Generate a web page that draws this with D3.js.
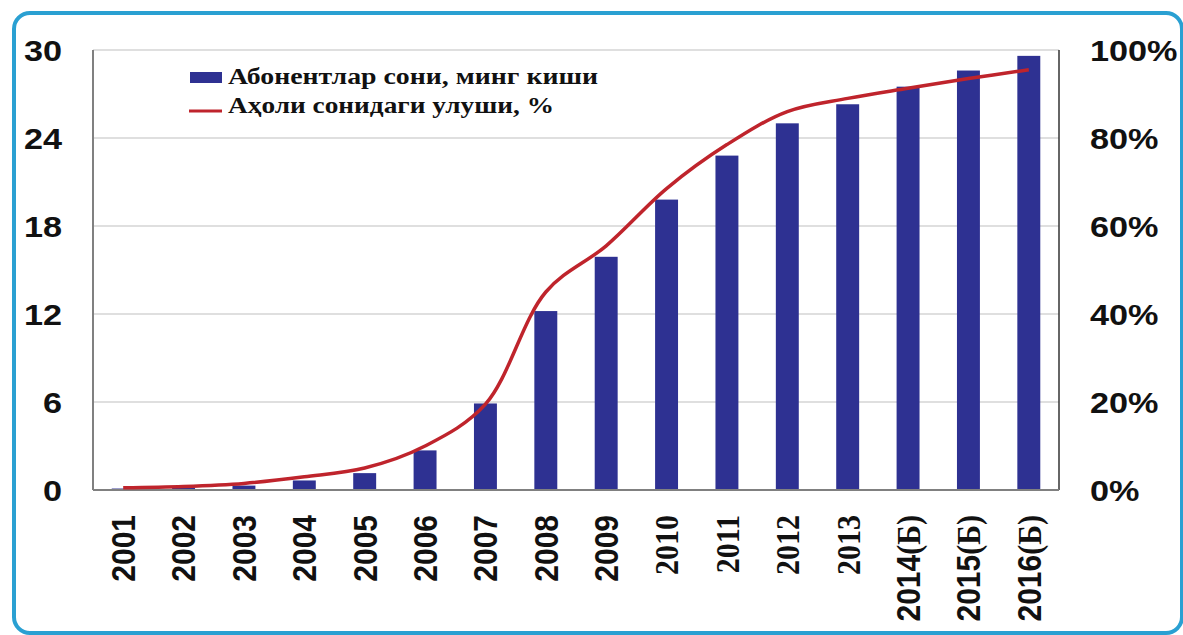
<!DOCTYPE html>
<html>
<head>
<meta charset="utf-8">
<script src="https://cdn.jsdelivr.net/npm/d3@7"></script>
<style>
  body { margin: 0; background: #fff; }
  svg { display: block; }
</style>
</head>
<body>
<script>
// data
let years = ["2001", "2002", "2003", "2004", "2005", "2006", "2007", "2008",
  "2009", "2010", "2011", "2012", "2013", "2014(Б)", "2015(Б)", "2016(Б)"];
let subscribers = [0.1, 0.15, 0.3, 0.65, 1.15, 2.7, 5.9, 12.2,
  15.9, 19.8, 22.8, 25.0, 26.3, 27.5, 28.6, 29.6];
let share = [0.005, 0.008, 0.015, 0.03, 0.05, 0.1, 0.195, 0.45,
  0.555, 0.685, 0.785, 0.86, 0.89, 0.913, 0.935, 0.955];
let leftTicks = [0, 6, 12, 18, 24, 30];
let rightTicks = [0, 0.2, 0.4, 0.6, 0.8, 1];
let legendLabels = ["Абонентлар сони, минг киши", "Аҳоли сонидаги улуши, %"];

let width = 1183, height = 635;
let plot = { left: 93, right: 1059, top: 50, bottom: 490 };
let stretch = 1.18;
let barColor = "#2e3192";
let lineColor = "#bf242c";

let svg = d3.select("body").append("svg")
  .attr("width", width)
  .attr("height", height);

// outer frame
svg.append("rect")
  .attr("x", 14).attr("y", 13)
  .attr("width", 1168).attr("height", 620)
  .attr("rx", 16)
  .attr("fill", "none")
  .attr("stroke", "#2aa0d2")
  .attr("stroke-width", 4);

//scales
let xScale = d3.scaleBand()
  .domain(years)
  .range([plot.left, plot.right])
  .paddingInner(0.62)
  .paddingOuter(0.31);

let yLeft = d3.scaleLinear().domain([0, 30]).range([plot.bottom, plot.top]);
let yRight = d3.scaleLinear().domain([0, 1]).range([plot.bottom, plot.top]);

//gridlines
svg.append("g")
  .selectAll("line")
  .data(leftTicks.slice(1))
  .enter()
  .append("line")
  .attr("x1", plot.left).attr("x2", plot.right)
  .attr("y1", d => yLeft(d)).attr("y2", d => yLeft(d))
  .attr("stroke", "#d4d4d4")
  .attr("stroke-width", 1.5);

//bars
svg.append("g")
  .selectAll("rect")
  .data(subscribers)
  .enter()
  .append("rect")
  .attr("x", (d, i) => xScale(years[i]))
  .attr("y", d => yLeft(d))
  .attr("width", xScale.bandwidth())
  .attr("height", d => yLeft(0) - yLeft(d))
  .attr("fill", barColor);

//plot borders
svg.append("line")
  .attr("x1", plot.left).attr("x2", plot.left)
  .attr("y1", plot.top).attr("y2", plot.bottom)
  .attr("stroke", "#808080").attr("stroke-width", 2);
svg.append("line")
  .attr("x1", plot.right).attr("x2", plot.right)
  .attr("y1", plot.top).attr("y2", plot.bottom)
  .attr("stroke", "#333").attr("stroke-width", 1.5);
svg.append("line")
  .attr("x1", plot.left).attr("x2", plot.right)
  .attr("y1", plot.bottom).attr("y2", plot.bottom)
  .attr("stroke", "#808080").attr("stroke-width", 2);

//share line
let line = d3.line()
  .x((d, i) => xScale(years[i]) + xScale.bandwidth() / 2)
  .y(d => yRight(d))
  .curve(d3.curveCatmullRom.alpha(0.5));

svg.append("path")
  .datum(share)
  .attr("d", line)
  .attr("fill", "none")
  .attr("stroke", lineColor)
  .attr("stroke-width", 3.5);

//left axis
let leftAxis = d3.axisLeft(yLeft).tickValues(leftTicks).tickSize(0).tickPadding(0);
let gLeft = svg.append("g")
  .attr("transform", "translate(" + plot.left + ",0)")
  .call(leftAxis);
gLeft.select(".domain").remove();
gLeft.selectAll("text")
  .attr("x", -31 / stretch)
  .attr("dy", "0.36em")
  .attr("transform", "scale(" + stretch + ",1)")
  .style("font-family", "Liberation Sans, Arial, sans-serif")
  .style("font-weight", "bold")
  .style("font-size", "29px")
  .style("fill", "#111");

//right axis
let rightAxis = d3.axisRight(yRight).tickValues(rightTicks).tickSize(0)
  .tickFormat(d3.format(".0%"));
let gRight = svg.append("g")
  .attr("transform", "translate(" + plot.right + ",0)")
  .call(rightAxis);
gRight.select(".domain").remove();
gRight.selectAll("text")
  .attr("x", 31 / stretch)
  .attr("dy", "0.36em")
  .attr("transform", "scale(" + stretch + ",1)")
  .style("font-family", "Liberation Sans, Arial, sans-serif")
  .style("font-weight", "bold")
  .style("font-size", "29px")
  .style("fill", "#111");

//x axis, rotated labels
let xAxis = d3.axisBottom(xScale).tickSize(0).tickFormat("");
let gX = svg.append("g")
  .attr("transform", "translate(0," + plot.bottom + ")")
  .call(xAxis);
gX.select(".domain").remove();
gX.selectAll(".tick text").remove();
gX.selectAll(".tick")
  .append("text")
  .attr("transform", "scale(1.1,1) rotate(-90)")
  .attr("x", -25)
  .attr("dy", "0.36em")
  .attr("text-anchor", "end")
  .style("font-weight", "bold")
  .style("font-size", "30px")
  .attr("fill", "#111")
  .each(function (d) {
    let t = d3.select(this);
    let num = d.slice(0, 4);
    let rest = d.slice(4);
    let serifNum = !rest && +num >= 2010;
    t.append("tspan")
      .style("font-family", serifNum ? "Liberation Serif, Times New Roman, serif" : "Liberation Sans, Arial, sans-serif")
      .text(num);
    if (rest) {
      t.append("tspan")
        .style("font-family", "Liberation Serif, Times New Roman, serif")
        .text(rest);
    }
  });

//legend
let legend = svg.append("g").attr("class", "legend");
legend.append("rect")
  .attr("x", 190).attr("y", 72)
  .attr("width", 32).attr("height", 11)
  .attr("fill", barColor);
legend.append("line")
  .attr("x1", 189).attr("x2", 222)
  .attr("y1", 111).attr("y2", 111)
  .attr("stroke", lineColor)
  .attr("stroke-width", 3);
let legendWidths = [370, 326];
legend.selectAll("text")
  .data(legendLabels)
  .enter()
  .append("text")
  .attr("x", 228)
  .attr("y", (d, i) => 84 + i * 29)
  .attr("textLength", (d, i) => legendWidths[i])
  .attr("lengthAdjust", "spacingAndGlyphs")
  .style("font-family", "Liberation Serif, Times New Roman, serif")
  .style("font-weight", "bold")
  .style("font-size", "23px")
  .attr("fill", "#111")
  .text(d => d);
</script>
</body>
</html>
